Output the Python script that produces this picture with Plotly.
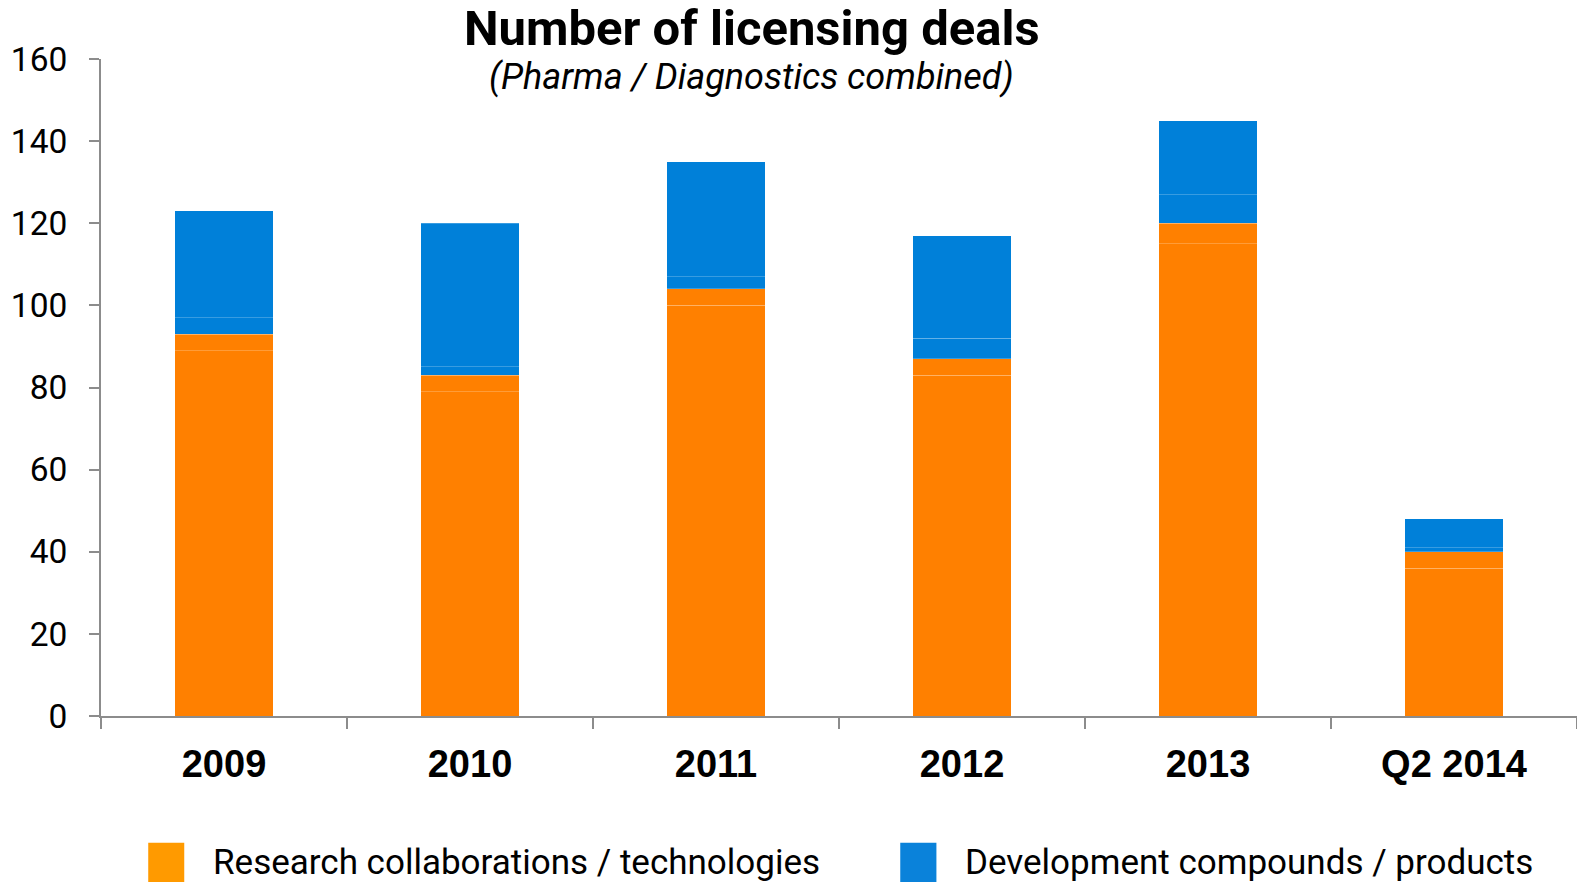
import plotly.graph_objects as go

# ---- data ----
categories = ["2009", "2010", "2011", "2012", "2013", "Q2 2014"]
# each bar is stacked from four segments (faint separators visible in the reference)
research_part1 = [89, 79, 100, 83, 115, 36]
research_part2 = [4, 4, 4, 4, 5, 4]
development_part1 = [4, 2, 3, 5, 7, 1]
development_part2 = [26, 35, 28, 25, 18, 7]

series_names = ["Research collaborations / technologies", "Development compounds / products"]
title_text = "Number of licensing deals"
subtitle_text = "(Pharma / Diagnostics combined)"
y_ticks = [0, 20, 40, 60, 80, 100, 120, 140, 160]

ORANGE = "#FF8000"
BLUE = "#0080D9"
LEG_ORANGE = "#FF9A00"
LEG_BLUE = "#0A82DA"
FONT = "Roboto, Liberation Sans, sans-serif"

fig = go.Figure()
segs = [
    (research_part1, ORANGE, series_names[0]),
    (research_part2, ORANGE, series_names[0]),
    (development_part1, BLUE, series_names[1]),
    (development_part2, BLUE, series_names[1]),
]
for vals, col, name in segs:
    fig.add_trace(go.Bar(
        x=categories, y=vals, name=name, legendgroup=name, showlegend=False,
        marker=dict(color=col, line=dict(color="rgba(255,255,255,0.22)", width=1)),
        width=0.4,
    ))

fig.update_layout(
    barmode="stack",
    width=1577, height=884,
    margin=dict(l=101, r=0, t=59, b=168),
    paper_bgcolor="white", plot_bgcolor="white",
    font=dict(family=FONT, color="black"),
    showlegend=False,
    xaxis=dict(
        type="category", range=[-0.5, 5.5],
        showline=True, linecolor="#8c8c8c", linewidth=2,
        ticks="outside", tickson="boundaries", ticklen=11, tickwidth=2, tickcolor="#8c8c8c",
        tickfont=dict(size=38, family="Liberation Sans, Arial, sans-serif", color="black", weight="bold"),
        ticklabelstandoff=13,
        showgrid=False, zeroline=False,
    ),
    yaxis=dict(
        range=[0, 160], tickvals=y_ticks,
        showline=True, linecolor="#8c8c8c", linewidth=2,
        ticks="outside", ticklen=10, tickwidth=2, tickcolor="#8c8c8c",
        tickfont=dict(size=33.5, color="black"),
        ticklabelstandoff=15,
        showgrid=False, zeroline=False,
    ),
)

# title and subtitle
fig.add_annotation(text=title_text, xref="paper", yref="paper", x=0.441, y=1.046,
                   xanchor="center", yanchor="middle", showarrow=False,
                   font=dict(size=49, color="black", weight="bold"))
fig.add_annotation(text="<i>" + subtitle_text + "</i>", xref="paper", yref="paper", x=0.441, y=0.973,
                   xanchor="center", yanchor="middle", showarrow=False,
                   font=dict(size=36, color="black"))

# custom legend with large swatches
legend_items = [
    (series_names[0], LEG_ORANGE, 0.032, 0.0564, 0.0747),
    (series_names[1], LEG_BLUE, 0.5415, 0.566, 0.584),
]
for name, col, x0, x1, xt in legend_items:
    fig.add_shape(type="rect", xref="paper", yref="paper", x0=x0, x1=x1, y0=-0.2527, y1=-0.193,
                  fillcolor=col, line=dict(width=0))
    fig.add_annotation(text=name, xref="paper", yref="paper", x=xt, y=-0.2235,
                       xanchor="left", yanchor="middle", showarrow=False,
                       font=dict(size=35, color="black"))

fig.write_html("out.html", config={"displayModeBar": False},
               post_script="document.body.style.margin='0';")
